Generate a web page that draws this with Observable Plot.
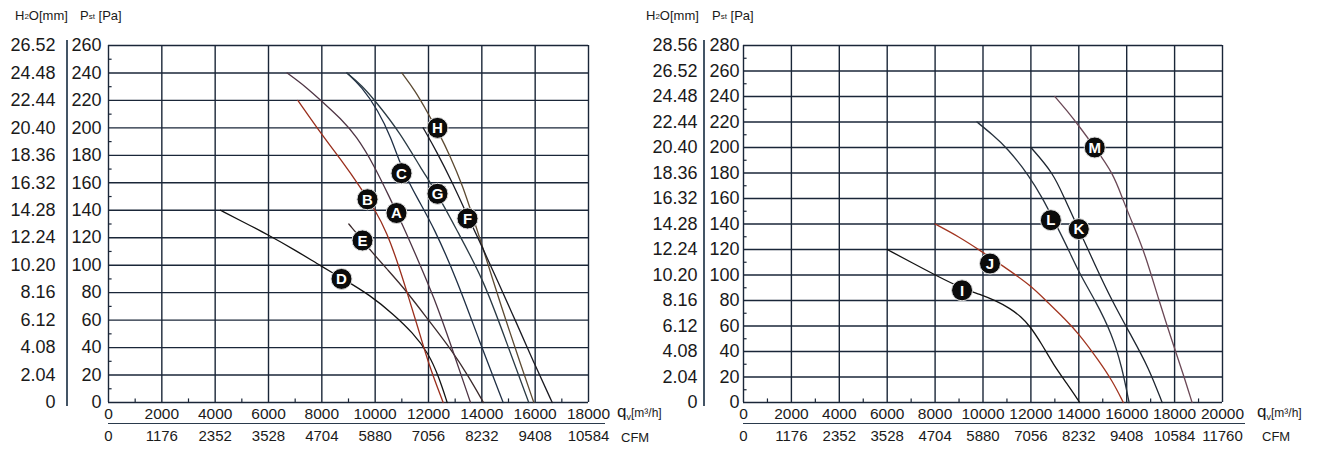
<!DOCTYPE html>
<html><head><meta charset="utf-8">
<script src="https://cdn.jsdelivr.net/npm/d3@7"></script>
<script src="https://cdn.jsdelivr.net/npm/@observablehq/plot@0.6"></script>
<style>
body{margin:0;background:#fff;font-family:"Liberation Sans",Arial,sans-serif;color:#1a1a1a;}
#wrap{position:relative;width:1327px;height:450px;overflow:hidden;background:#fff;}
.abs{position:absolute;white-space:nowrap;line-height:1;}
.hdr{font-size:13px;}
.hdr sub{font-size:8px;vertical-align:baseline;position:relative;top:-1px;}
.ql{font-size:17px;}
.ql sub{font-size:9px;vertical-align:baseline;position:relative;top:3px;}
.ql small{font-size:12px;}
.cfm{font-size:13px;}
.vsep{position:absolute;width:1.6px;background:#445566;}
.hsep{position:absolute;height:1.4px;background:#2a3a4c;}
</style></head>
<body><div id="wrap"></div>
<script>
// ---------- LEFT CHART DATA ----------
const leftPaTicks = [0,20,40,60,80,100,120,140,160,180,200,220,240,260];
const leftMmLabels = ["0","2.04","4.08","6.12","8.16","10.20","12.24","14.28","16.32","18.36","20.40","22.44","24.48","26.52"];
const leftQTicks = [0,2000,4000,6000,8000,10000,12000,14000,16000,18000];
const leftCfmLabels = ["0","1176","2352","3528","4704","5880","7056","8232","9408","10584"];
const leftMinorX = [1000,3000,5000,7000,9000,11000,13000,15000,17000];
const leftMinorY = [10,30,50,70,90,110,130,150,170,190,210,230,250];

const curveA = [[6700,240],[7400,230],[8075,218],[8700,207],[9300,194],[9950,173],[10500,151],[11062,128],[11600,104],[12200,77],[12875,40],[13575,0]];
const curveB = [[7100,220],[8075,193],[8825,174],[9400,158],[10012,140],[10450,123],[10825,103],[11200,80],[11600,55],[12000,28],[12550,0]];
const curveC = [[8940,240],[9500,230],[10100,213],[10600,193],[10980,171],[11600,148],[12190,128],[13075,89],[13900,45],[14800,0]];
const curveD = [[4200,140],[5000,132],[6000,122],[7000,111],[8000,99],[8800,90],[9825,78],[10700,64],[11400,51],[12000,36],[12400,18],[12700,0]];
const curveE = [[9012,130],[9575,117],[9812,111],[10500,96],[11137,82],[12000,60],[12875,38],[13500,19],[14062,0]];
const curveF = [[11800,200],[12300,183],[12900,160],[13460,136],[14000,114],[14600,88],[15300,58],[15950,29],[16640,0]];
const curveG = [[8940,240],[9500,231],[10075,218],[10950,196],[11700,171],[12337,152],[13075,125],[14075,89],[14900,45],[15760,0]];
const curveH = [[11000,240],[11500,227],[12000,210],[12400,196],[12800,180],[13300,157],[13650,136],[13950,118],[14400,90],[14950,57],[15450,28],[15950,0]];
const leftLabels = [["A",10800,138],["B",9712,148],["C",10987,167],["D",8737,90],["E",9525,118],["F",13462,134],["G",12337,152],["H",12337,200]];

// ---------- RIGHT CHART DATA ----------
const rightPaTicks = [0,20,40,60,80,100,120,140,160,180,200,220,240,260,280];
const rightMmLabels = ["0","2.04","4.08","6.12","8.16","10.20","12.24","14.28","16.32","18.36","20.40","22.44","24.48","26.52","28.56"];
const rightQTicks = [0,2000,4000,6000,8000,10000,12000,14000,16000,18000,20000];
const rightCfmLabels = ["0","1176","2352","3528","4704","5880","7056","8232","9408","10584","11760"];
const rightMinorX = [1000,3000,5000,7000,9000,11000,13000,15000,17000,19000];
const rightMinorY = [10,30,50,70,90,110,130,150,170,190,210,230,250,270];

const curveI = [[6000,120],[7000,110],[8000,100],[9180,89],[9875,85],[10500,80],[11125,74],[11600,67],[11958,60],[12450,46],[12930,30],[13500,15],[14041,0]];
const curveJ = [[8000,140],[9000,130],[9900,119],[10700,108.7],[12000,92],[12750,77.5],[13400,66],[14000,54],[14830,33],[15400,17],[15860,0]];
const curveK = [[12000,200],[12935,180],[13400,160],[14000,136],[14700,107],[15380,80],[16200,52],[16900,28],[17480,0]];
const curveL = [[9750,220],[10400,210],[10993,200],[11964,177],[12519,159],[12900,145],[13470,124],[14000,102],[14690,80],[15380,54],[15800,28],[16100,0]];
const curveM = [[13000,240],[13500,229],[14045,216],[14667,200],[15432,180],[15861,158],[16300,138],[16758,117],[17330,81],[17930,46],[18350,23],[18730,0]];
const rightLabels = [["I",9125,88],["J",10292,109],["K",14000,136],["L",12833,143],["M",14667,200]];

// ---------- STYLES ----------
const gridColor = "#1a2638";
const FONT = "'Liberation Sans', Arial, sans-serif";

function buildChart(cfg) {
  const lineMarks = cfg.curves.map(([pts, color]) =>
    Plot.line(pts, {x: d => d[0], y: d => d[1], stroke: color, strokeWidth: 1.3, curve: "basis"}));
  return Plot.plot({
    width: cfg.width, height: 450,
    marginLeft: cfg.mL, marginRight: cfg.mR, marginTop: 45, marginBottom: 48,
    x: {domain: [0, cfg.xMax]},
    y: {domain: [0, cfg.yMax]},
    style: {fontFamily: FONT, color: "#1a1a1a", background: "transparent", overflow: "visible"},
    marks: [
      Plot.gridX(cfg.xTicks, {stroke: gridColor, strokeOpacity: 1, strokeWidth: 1.4}),
      Plot.gridY(cfg.yTicks, {stroke: gridColor, strokeOpacity: 1, strokeWidth: 1.4}),
      Plot.ruleX(cfg.minorX, {x: d => d, y1: 0, y2: cfg.yMax * 0.01, stroke: gridColor, strokeWidth: 1.2}),
      Plot.ruleY(cfg.minorY, {y: d => d, x1: 0, x2: cfg.xMax * 0.0075, stroke: gridColor, strokeWidth: 1.2}),
      ...lineMarks,
      Plot.dot(cfg.labels, {x: d => d[1], y: d => d[2], r: 10.5, fill: "#0b0b0b", stroke: "#ddd", strokeWidth: 1}),
      Plot.text(cfg.labels, {x: d => d[1], y: d => d[2], text: d => d[0], fill: "#fff", fontSize: 15, fontWeight: "bold", dy: 0.5}),
      Plot.axisY(cfg.yTicks, {anchor: "left", tickSize: 0, tickPadding: cfg.padPa, fontSize: 18, label: null, tickFormat: d => String(d)}),
      Plot.axisY(cfg.yTicks, {anchor: "left", tickSize: 0, tickPadding: cfg.padMm, fontSize: 18, label: null, tickFormat: d => cfg.mm[cfg.yTicks.indexOf(d)]}),
      Plot.axisX(cfg.xTicks, {anchor: "bottom", tickSize: 0, tickPadding: 5, fontSize: 15.5, label: null, tickFormat: d => String(d)}),
      Plot.axisX(cfg.xTicks, {anchor: "bottom", tickSize: 0, tickPadding: 28, fontSize: 15, label: null, tickFormat: d => cfg.cfm[cfg.xTicks.indexOf(d)]})
    ]
  });
}

const wrap = document.getElementById("wrap");

const left = buildChart({
  width: 640, mL: 108, mR: 52, xMax: 18000, yMax: 260,
  xTicks: leftQTicks, yTicks: leftPaTicks, mm: leftMmLabels, cfm: leftCfmLabels,
  minorX: leftMinorX, minorY: leftMinorY, padPa: 7, padMm: 53,
  curves: [[curveD,"#121212"],[curveE,"#3b2a2c"],[curveB,"#9a2e1c"],[curveA,"#4e3444"],[curveC,"#1f2f45"],[curveG,"#2a3a44"],[curveH,"#5c4a32"],[curveF,"#1a1a22"]],
  labels: leftLabels
});
left.style.position = "absolute"; left.style.left = "0px"; left.style.top = "0px";
wrap.appendChild(left);

const right = buildChart({
  width: 687, mL: 103, mR: 105, xMax: 20000, yMax: 280,
  xTicks: rightQTicks, yTicks: rightPaTicks, mm: rightMmLabels, cfm: rightCfmLabels,
  minorX: rightMinorX, minorY: rightMinorY, padPa: 4, padMm: 46,
  curves: [[curveI,"#141414"],[curveJ,"#a23520"],[curveL,"#26313d"],[curveK,"#1d2530"],[curveM,"#6b4856"]],
  labels: rightLabels
});
right.style.position = "absolute"; right.style.left = "640px"; right.style.top = "0px";
wrap.appendChild(right);

// decorations and unit labels
const extras = `
<div class="vsep" style="left:66px;top:40px;height:366px"></div>
<div class="vsep" style="left:703px;top:40px;height:366px"></div>
<div class="hsep" style="left:108px;top:423px;width:497px"></div>
<div class="hsep" style="left:743px;top:422.5px;width:502px"></div>
<div class="abs hdr" style="left:15px;top:9px">H<sub>2</sub>O[mm]</div>
<div class="abs hdr" style="left:80px;top:9px">P<sub>st</sub> [Pa]</div>
<div class="abs hdr" style="left:646px;top:9px">H<sub>2</sub>O[mm]</div>
<div class="abs hdr" style="left:712px;top:9px">P<sub>st</sub> [Pa]</div>
<div class="abs ql" style="left:617px;top:403px">q<sub>v</sub><small>[m³/h]</small></div>
<div class="abs cfm" style="left:621px;top:431px">CFM</div>
<div class="abs ql" style="left:1257px;top:403px">q<sub>v</sub><small>[m³/h]</small></div>
<div class="abs cfm" style="left:1262px;top:430px">CFM</div>`;
wrap.insertAdjacentHTML("beforeend", extras);
</script>
</body></html>
